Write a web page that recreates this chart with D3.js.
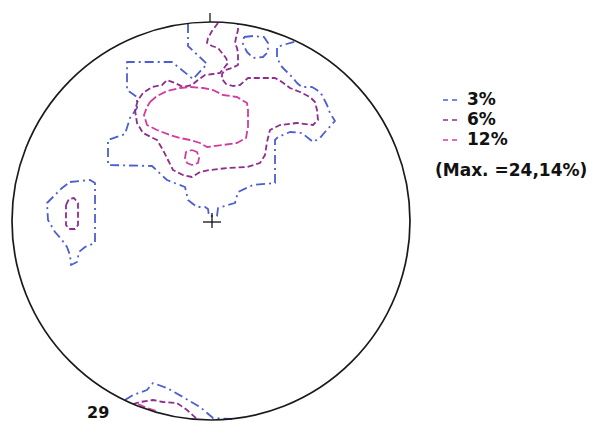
<!DOCTYPE html>
<html><head><meta charset="utf-8">
<script src="https://cdn.jsdelivr.net/npm/d3@7"></script>
<style>html,body{margin:0;padding:0;background:#fff;overflow:hidden;} svg{display:block;}</style>
</head><body>
<script>
// ---- data (net coordinates: x east, y north, net radius = 199 units) ----
const levels = ["3%", "6%", "12%"];
const levelColors = ["#4d5ed2", "#8f2c90", "#d23c9e"];
const maxLabel = "(Max. =24,14%)";
const sampleCount = "29";
const netRadius = 199;

const contour3 = [
  [[-23,197],[-23,175],[-4,157],[-18,142],[-39,159],[-84,159],[-84,131],[-74,124],[-74,113],[-81,103],[-86,87],[-103,81],[-103,56],[-59,55],[-44,41],[-26,34],[-23,21],[-14,14],[-6,14],[-3,12],[-2,5],[6,5],[7,13],[24,18],[27,29],[42,36],[64,38],[64,81],[67,84],[79,89],[91,88],[102,79],[109,83],[114,89],[124,100],[119,108],[116,116],[111,126],[106,131],[101,134],[91,134],[86,138],[82,143],[76,149],[71,154],[66,163],[66,174],[72,176],[86,180]],
  [[33,184],[42,185],[53,184],[57,178],[57,169],[52,164],[42,163],[36,169],[32,177],[33,184]],
  [[-141,39],[-121,41],[-116,38],[-116,-22],[-126,-26],[-132,-31],[-134,-41],[-140,-44],[-141,-34],[-144,-26],[-149,-19],[-156,-11],[-163,1],[-164,18],[-156,26],[-149,33],[-141,39]],
  [[-86,-179],[-78,-174],[-64,-169],[-58,-162],[-44,-167],[-28,-176],[-11,-186],[2,-197],[21,-198]]
];
const contour6 = [
  [[7,198],[1,190],[-3,183],[-4,178],[1,175],[7,173],[11,168],[15,163],[17,158],[13,153],[9,148],[2,147],[-6,146],[-13,141],[-19,136],[-28,134],[-36,138],[-44,141],[-49,136],[-59,134],[-68,128],[-73,121],[-76,111],[-74,98],[-68,88],[-54,81],[-48,71],[-43,61],[-38,51],[-28,46],[-19,44],[-11,49],[-1,51],[16,53],[36,54],[49,58],[54,66],[56,79],[59,91],[69,96],[86,98],[102,96],[107,101],[106,111],[104,119],[99,124],[89,129],[79,133],[71,139],[64,143],[51,143],[37,143],[29,136],[22,135],[15,137],[11,142],[11,147],[14,151],[21,153],[27,156],[27,168],[26,173],[24,178],[25,183],[27,191],[27,197]],
  [[-145,16],[-142,22],[-137,23],[-133,18],[-133,-4],[-136,-8],[-142,-8],[-145,-4],[-145,16]],
  [[-78,-183],[-71,-181],[-58,-179],[-48,-181],[-34,-182],[-24,-189],[-14,-198]]
];
const contour12 = [
  [[-61,119],[-54,125],[-44,130],[-31,133],[-21,134],[-8,133],[2,131],[12,126],[26,124],[36,118],[37,111],[37,94],[35,83],[26,78],[12,76],[-4,74],[-11,78],[-21,81],[-31,83],[-41,86],[-54,91],[-64,96],[-67,106],[-64,114],[-61,119]],
  [[-19,71],[-14,69],[-12,63],[-13,58],[-19,56],[-24,58],[-26,63],[-25,69],[-19,71]],
  [[-73,-183],[-64,-187],[-55,-190]]
];
const contours = [contour3, contour6, contour12];
const dashes = ["9,4,2,4", "6,3", "8,3"];

// ---- drawing ----
const W = 592, H = 422;
const svg = d3.select("body").append("svg").attr("width", W).attr("height", H);
const x = d3.scaleLinear().domain([-netRadius, netRadius]).range([12, 410]);
const y = d3.scaleLinear().domain([-netRadius, netRadius]).range([420, 22]);
const line = d3.line().x(d => x(d[0])).y(d => y(d[1]));

// contours
contours.forEach((set, i) => {
  svg.append("g").selectAll("path").data(set).join("path")
    .attr("d", line)
    .attr("fill", "none")
    .attr("stroke", levelColors[i])
    .attr("stroke-width", 1.8)
    .attr("stroke-dasharray", dashes[i])
    .attr("stroke-linejoin", "round");
});

// net circle
svg.append("circle")
  .attr("cx", x(0)).attr("cy", y(0)).attr("r", x(netRadius) - x(0))
  .attr("fill", "none").attr("stroke", "#1a1a1a").attr("stroke-width", 1.7);

// north tick
svg.append("line")
  .attr("x1", x(-1)).attr("x2", x(-1))
  .attr("y1", y(netRadius) - 9).attr("y2", y(netRadius))
  .attr("stroke", "#1a1a1a").attr("stroke-width", 1.3);

// centre cross
const cx = x(1), cy = y(-1);
svg.append("line").attr("x1", cx - 9).attr("x2", cx + 9).attr("y1", cy).attr("y2", cy)
  .attr("stroke", "#111").attr("stroke-width", 1.3);
svg.append("line").attr("x1", cx).attr("x2", cx).attr("y1", cy - 9).attr("y2", cy + 6)
  .attr("stroke", "#111").attr("stroke-width", 1.3);

// sample count
svg.append("text").attr("x", 87).attr("y", 418)
  .attr("font-family", "DejaVu Sans").attr("font-weight", "bold").attr("font-size", 16)
  .attr("fill", "#111").text(sampleCount);

// legend
const lg = svg.append("g").attr("font-family", "DejaVu Sans").attr("font-weight", "bold")
  .attr("font-size", 17).attr("fill", "#111");
levels.forEach((lab, i) => {
  const by = 105 + i * 20;
  [443, 452].forEach(dx => {
    lg.append("line").attr("x1", dx).attr("x2", dx + 5).attr("y1", by - 5).attr("y2", by - 5)
      .attr("stroke", levelColors[i]).attr("stroke-width", 1.5);
  });
  lg.append("text").attr("x", 467).attr("y", by).text(lab);
});
lg.append("text").attr("x", 435).attr("y", 176).text(maxLabel);
</script>
</body></html>
